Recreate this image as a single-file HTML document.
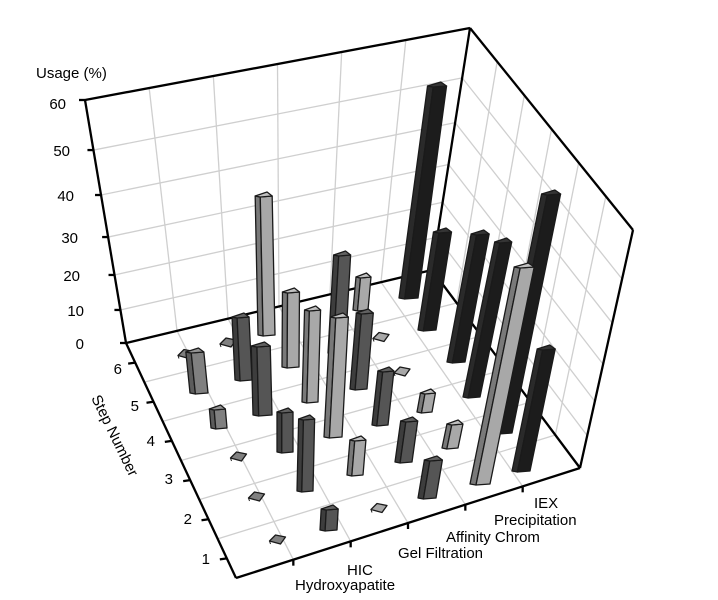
<!DOCTYPE html>
<html><head><meta charset="utf-8"><style>
body{margin:0;background:#fff;}
svg{display:block;font-family:"Liberation Sans",sans-serif;}
</style></head><body>
<svg id="s" width="718" height="600" viewBox="0 0 718 600" xmlns="http://www.w3.org/2000/svg">
<rect width="718" height="600" fill="#fff"/>
<g id="grid" stroke="#cfcfcf" stroke-width="1.3" fill="none"></g>
<g id="axes" stroke="#000" stroke-width="2.3" fill="none"></g>
<g id="bars"></g>
<g font-size="15" fill="#000">
<text x="36" y="78">Usage (%)</text>
<text x="66" y="109" text-anchor="end">60</text>
<text x="70" y="156" text-anchor="end">50</text>
<text x="74" y="201" text-anchor="end">40</text>
<text x="78" y="243" text-anchor="end">30</text>
<text x="80" y="281" text-anchor="end">20</text>
<text x="84" y="316" text-anchor="end">10</text>
<text x="84" y="349" text-anchor="end">0</text>
<text x="122" y="374" text-anchor="end">6</text>
<text x="139" y="411" text-anchor="end">5</text>
<text x="155" y="446" text-anchor="end">4</text>
<text x="173" y="484" text-anchor="end">3</text>
<text x="192" y="524" text-anchor="end">2</text>
<text x="210" y="564" text-anchor="end">1</text>
<text x="0" y="0" transform="translate(91,398) rotate(64)">Step Number</text>
<text x="534" y="508">IEX</text>
<text x="494" y="525">Precipitation</text>
<text x="446" y="542">Affinity Chrom</text>
<text x="398" y="558">Gel Filtration</text>
<text x="347" y="575">HIC</text>
<text x="295" y="590">Hydroxyapatite</text>
</g>
</svg>
<script>
var NS="http://www.w3.org/2000/svg";
function el(p,t,a){var e=document.createElementNS(NS,t);for(var k in a)e.setAttribute(k,a[k]);p.appendChild(e);return e;}
var A=[126,343],B=[432,270],C=[580,468],D=[236,578];
var At=[85,100],Bt=[470,28],Ct=[633,230];
var F=[0,0.136,0.28,0.436,0.609,0.794,1];
function L(p,q,t){return [p[0]+(q[0]-p[0])*t,p[1]+(q[1]-p[1])*t];}
var g=document.getElementById('grid');
function line(g,p,q){el(g,'line',{x1:p[0],y1:p[1],x2:q[0],y2:q[1]});}
for(var i=1;i<7;i++){var a=L(A,At,F[i]),b=L(B,Bt,F[i]),c=L(C,Ct,F[i]);line(g,a,b);line(g,b,c);}
for(var i=1;i<6;i++){var t=i/6;line(g,L(A,B,t),L(At,Bt,t));line(g,L(B,C,t),L(Bt,Ct,t));}
for(var i=1;i<6;i++){var t=i/6;line(g,L(D,C,t),L(A,B,t));line(g,L(D,A,t),L(C,B,t));}
var ax=document.getElementById('axes');
[[A,At],[At,Bt],[Bt,Ct],[Ct,C],[C,D],[D,A],[A,B],[B,C],[B,Bt]].forEach(function(s){line(ax,s[0],s[1]);});
for(var i=0;i<7;i++){var p=L(A,At,F[i]);line(ax,[p[0]-6,p[1]],p);}
for(var i=0;i<6;i++){var p=L(D,A,(i+0.5)/6);line(ax,[p[0]-7,p[1]+1],p);}
for(var i=1;i<6;i++){var p=L(D,C,i/6);line(ax,p,[p[0],p[1]+6]);}
var LG='#a8a8a8',MG='#808080',DG='#555555',BK='#1c1c1c';
var bars=[
[180,192,351,358,MG],[222,234,340,346,MG],
[235,252,313,380,DG],[258,275,192,335,LG],[282,299,288,367,LG],[328,345,251,353,DG],[353,368,273,310,LG],[399,418,82,298,BK],
[190,208,348,393,MG],[253,272,342,415,DG],[302,318,306,402,LG],[324,342,313,437,LG],[350,367,309,389,DG],[375,387,334,341,LG],[418,436,228,330,BK],
[211,227,405,428,MG],[277,293,408,452,DG],[372,388,367,425,DG],[396,408,369,375,LG],[417,432,389,412,LG],[447,465,230,362,BK],
[232,245,453,461,MG],[297,313,415,491,DG],[347,363,436,475,LG],[395,412,417,462,DG],[442,458,420,448,LG],[463,480,238,397,BK],[493,512,190,433,BK],
[250,263,493,501,MG],[320,337,505,530,DG],[373,385,505,512,LG],[418,436,456,498,DG],[470,490,263,484,LG],[512,530,345,471,BK],
[271,284,536,544,MG]
];
bars.sort(function(a,b){return a[3]-b[3];});
function shade(c,f){var n=parseInt(c.slice(1),16),r=(n>>16)&255,gg=(n>>8)&255,b=n&255;function m(v){return Math.max(0,Math.min(255,Math.round(v*f)));}return 'rgb('+m(r)+','+m(gg)+','+m(b)+')';}
var bg=document.getElementById('bars');
bars.forEach(function(b){
  var xl=b[0],xr=b[1],yt=b[2],yb=b[3],c=b[4];
  var st={stroke:'#1a1a1a','stroke-width':1.3,'stroke-linejoin':'round'};
  if(yb-yt<10){
    var cx=(xl+xr)/2,cy=(yt+yb)/2;
    var p=[[cx-8,cy+1],[cx-2,cy-5],[cx+8,cy-3],[cx+3,cy+4]];
    el(bg,'polygon',Object.assign({points:p.join(' '),fill:c},st));
    el(bg,'line',{x1:cx-8,y1:cy+1,x2:cx-7,y2:cy+4,stroke:'#1a1a1a','stroke-width':1});
    return;
  }
  var lean=Math.max(-0.17,Math.min(0.2,0.00107*((xl+xr)/2-285)));
  var dx=lean*(yb-yt);
  var w=xr-xl,s=Math.max(3,w*0.3);
  var cap=4;
  var p=[[xl,yb],[xl+s,yb+1],[xl+s+dx,yt+1+cap],[xl+dx,yt+cap]];
  el(bg,'polygon',Object.assign({points:p.join(' '),fill:shade(c,c==BK?1.5:0.72)},st));
  p=[[xl+s,yb+1],[xr,yb],[xr+dx,yt+cap],[xl+s+dx,yt+1+cap]];
  el(bg,'polygon',Object.assign({points:p.join(' '),fill:c},st));
  p=[[xl+dx,yt+cap],[xl+s+dx,yt+1+cap],[xr+dx,yt+cap],[xr-s+dx,yt]];
  el(bg,'polygon',Object.assign({points:p.join(' '),fill:shade(c,c==BK?1.9:1.15)},st));
});
</script>
</body></html>
